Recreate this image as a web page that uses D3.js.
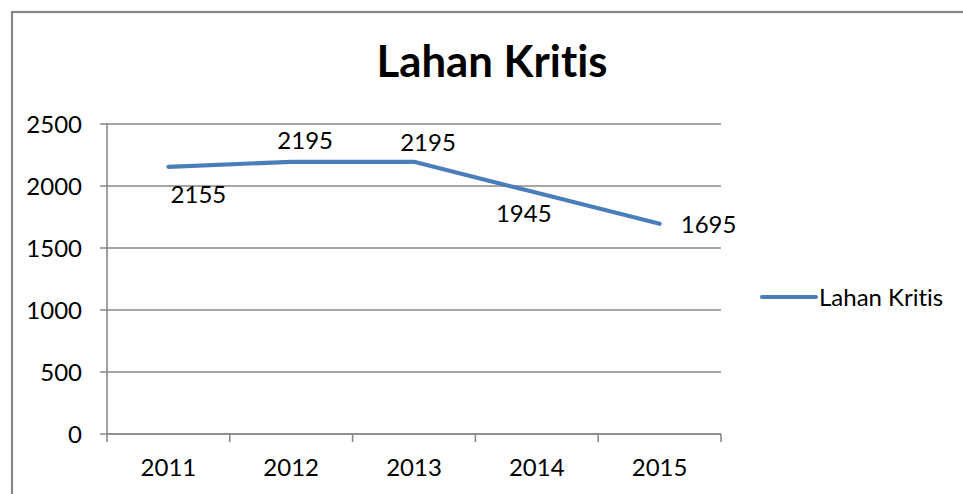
<!DOCTYPE html>
<html>
<head>
<meta charset="utf-8">
<script src="https://cdn.jsdelivr.net/npm/d3@7"></script>
<style>
  html, body { margin: 0; padding: 0; background: #fff; }
  svg { display: block; }
  text { font-family: Lato, "Open Sans", sans-serif; fill: #000;
         font-variant-ligatures: none; font-feature-settings: "liga" 0, "clig" 0; }
</style>
</head>
<body>
<svg id="chart" width="963" height="494"></svg>
<script>
// Series data
const years = ["2011", "2012", "2013", "2014", "2015"];
const values = [2155, 2195, 2195, 1945, 1695];
const seriesName = "Lahan Kritis";
const chartTitle = "Lahan Kritis";
const yTicks = [0, 500, 1000, 1500, 2000, 2500];

// Data-label placement relative to each point (dx, baseline dy)
const labelShift = [[30, 36], [14, -13], [14, -11], [-13, 29], [49, 9]];

const svg = d3.select("#chart");
const gridColor = "#888888";
const lineColor = "#4A7EBB";
const fontSize = 24;

// Chart frame
svg.append("rect")
  .attr("x", 12).attr("y", 12)
  .attr("width", 1000).attr("height", 600)
  .attr("fill", "none").attr("stroke", gridColor).attr("stroke-width", 2.2);

const plot = { left: 107, right: 721, top: 124, bottom: 434 };

const x = d3.scaleBand().domain(years).range([plot.left, plot.right]).padding(0);
const y = d3.scaleLinear().domain([0, 2500]).range([plot.bottom, plot.top]);

// Title
svg.append("text")
  .attr("x", 492).attr("y", 77)
  .attr("text-anchor", "middle")
  .attr("font-size", 44).attr("font-weight", 700)
  .attr("textLength", 231).attr("lengthAdjust", "spacingAndGlyphs")
  .text(chartTitle);

// Horizontal gridlines with left tick marks
svg.append("g").selectAll("line").data(yTicks).join("line")
  .attr("x1", plot.left - 7).attr("x2", plot.right)
  .attr("y1", d => y(d)).attr("y2", d => y(d))
  .attr("stroke", gridColor).attr("stroke-width", 1.6);

// Y axis
const yAxis = d3.axisLeft(y).tickValues(yTicks).tickFormat(d3.format("d"))
  .tickSize(0).tickPadding(25);
const gy = svg.append("g").attr("transform", `translate(${plot.left},0)`).call(yAxis);
gy.select(".domain").attr("stroke", gridColor).attr("stroke-width", 1.6)
  .attr("d", `M0,${plot.top - 1}V${plot.bottom}`);
gy.selectAll("text").attr("font-size", fontSize).attr("font-family", "Lato, sans-serif")
  .attr("fill", "#000").attr("dy", "0.36em");

// X axis: ticks sit on category boundaries
const gx = svg.append("g").attr("transform", `translate(0,${plot.bottom})`);
const bounds = years.map(d => x(d)).concat([plot.right]);
gx.append("line").attr("x1", plot.left).attr("x2", plot.right)
  .attr("stroke", gridColor).attr("stroke-width", 1.6);
gx.selectAll("line.tick").data(bounds).join("line").attr("class", "tick")
  .attr("x1", d => d).attr("x2", d => d).attr("y1", 0).attr("y2", 8)
  .attr("stroke", gridColor).attr("stroke-width", 1.6);
gx.selectAll("text").data(years).join("text")
  .attr("x", d => x(d) + x.bandwidth() / 2).attr("y", 42)
  .attr("text-anchor", "middle").attr("font-size", fontSize)
  .text(d => d);

// Series line
const pts = years.map((yr, i) => [x(yr) + x.bandwidth() / 2, y(values[i])]);
svg.append("path")
  .attr("d", d3.line()(pts))
  .attr("fill", "none").attr("stroke", lineColor)
  .attr("stroke-width", 4.2).attr("stroke-linejoin", "round").attr("stroke-linecap", "round");

// Data labels
svg.append("g").selectAll("text").data(values).join("text")
  .attr("x", (d, i) => pts[i][0] + labelShift[i][0])
  .attr("y", (d, i) => pts[i][1] + labelShift[i][1])
  .attr("text-anchor", "middle").attr("font-size", fontSize)
  .text(d => d);

// Legend
const lg = svg.append("g");
lg.append("line").attr("x1", 762).attr("x2", 816).attr("y1", 297).attr("y2", 297)
  .attr("stroke", lineColor).attr("stroke-width", 4.2).attr("stroke-linecap", "round");
lg.append("text").attr("x", 819).attr("y", 306).attr("font-size", fontSize)
  .text(seriesName);
</script>
</body>
</html>
